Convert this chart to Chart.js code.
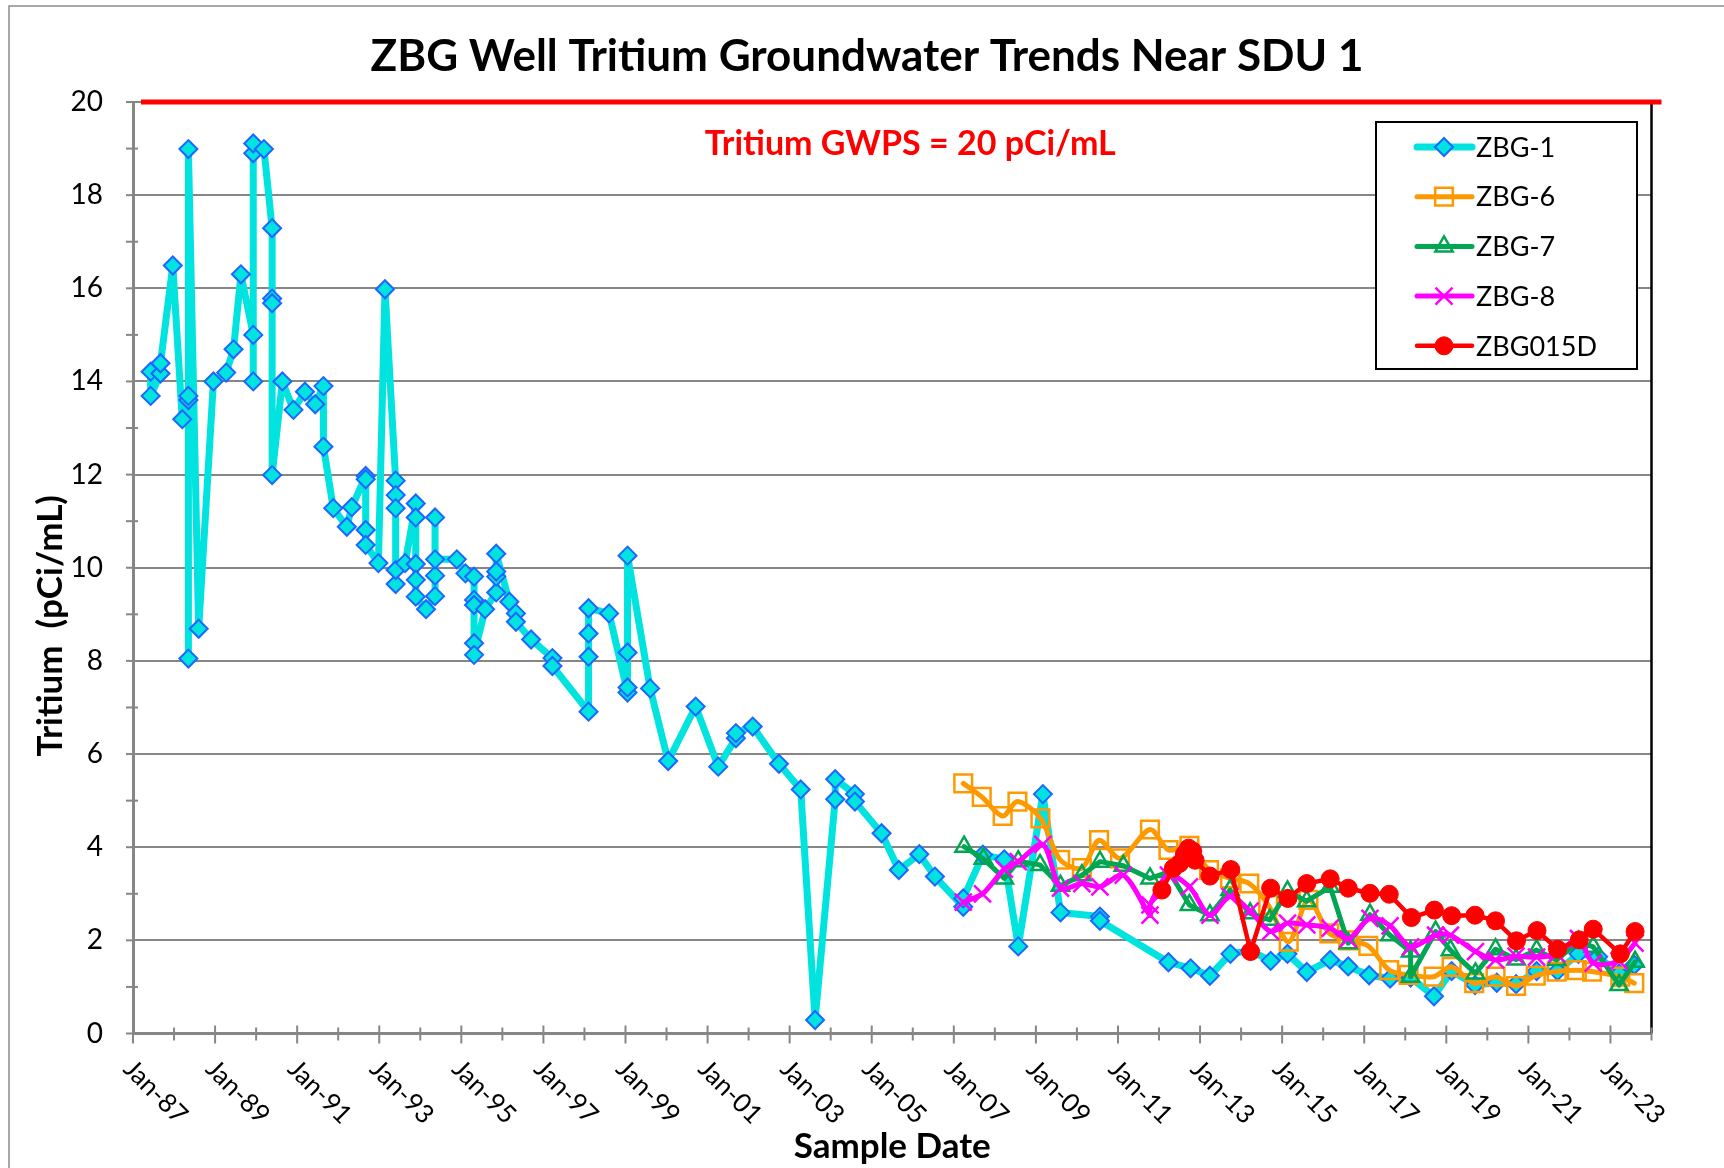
<!DOCTYPE html>
<html>
<head>
<meta charset="utf-8">
<title>ZBG Well Tritium Groundwater Trends Near SDU 1</title>
<script src="https://cdn.jsdelivr.net/npm/chart.js@4.4.0/dist/chart.umd.min.js"></script>
<style>
    html, body { margin: 0; padding: 0; background: #ffffff; }
    #wrap { width: 1724px; height: 1168px; }
</style>
</head>
<body>
<div id="wrap"><canvas id="trendChart" width="1724" height="1168"></canvas></div>
<script>
// Sample dates are decimal years, values in pCi/mL
const zbg1Dates = [
    1987.43, 1987.43, 1987.67, 1987.67, 1987.97, 1988.20, 1988.35, 1988.35, 1988.35, 1988.35,
    1988.60, 1988.96, 1989.27, 1989.45, 1989.63, 1989.93, 1989.93, 1989.93, 1989.93, 1990.19,
    1990.39, 1990.39, 1990.39, 1990.39, 1990.64, 1990.91, 1991.19, 1991.44, 1991.64, 1991.64,
    1991.88, 1992.21, 1992.33, 1992.67, 1992.67, 1992.67, 1992.67, 1992.98, 1993.14, 1993.40,
    1993.40, 1993.40, 1993.40, 1993.40, 1993.63, 1993.89, 1993.89, 1993.89, 1993.89, 1993.89,
    1994.14, 1994.36, 1994.36, 1994.36, 1994.36, 1994.89, 1995.10, 1995.31, 1995.31, 1995.31,
    1995.31, 1995.31, 1995.58, 1995.85, 1995.85, 1995.85, 1995.85, 1996.17, 1996.33, 1996.33,
    1996.70, 1997.22, 1997.22, 1998.10, 1998.10, 1998.10, 1998.10, 1998.60, 1999.05, 1999.05,
    1999.05, 1999.05, 1999.60, 2000.04, 2000.71, 2001.26, 2001.69, 2001.69, 2002.10, 2002.74,
    2003.27, 2003.62, 2004.11, 2004.11, 2004.59, 2004.59, 2005.24, 2005.66, 2006.16, 2006.54,
    2007.23, 2007.23, 2007.71, 2008.23, 2008.57, 2009.17, 2009.60, 2010.56, 2010.56, 2012.23,
    2012.77, 2013.24, 2013.74, 2014.22, 2014.72, 2015.13, 2015.60, 2016.17, 2016.61, 2017.12,
    2017.63, 2018.13, 2018.70, 2019.13, 2019.70, 2020.23, 2020.70, 2021.20, 2021.71, 2022.22,
    2022.70, 2023.21, 2023.58
];
const zbg1Values = [
    14.21, 13.69, 14.17, 14.39, 16.49, 13.19, 13.60, 13.69, 8.05, 18.99,
    8.69, 14.00, 14.19, 14.69, 16.30, 15.00, 14.00, 18.90, 19.11, 18.99,
    17.29, 15.78, 15.68, 11.99, 14.00, 13.39, 13.78, 13.51, 13.90, 12.60,
    11.28, 10.88, 11.30, 11.97, 11.90, 10.81, 10.49, 10.10, 15.98, 11.87,
    11.56, 11.28, 9.65, 9.95, 10.10, 11.38, 11.08, 10.08, 9.74, 9.38,
    9.11, 9.39, 9.83, 11.08, 10.18, 10.18, 9.88, 9.81, 9.31, 9.20,
    8.38, 8.13, 9.11, 9.47, 9.81, 9.92, 10.30, 9.27, 9.02, 8.84,
    8.46, 8.06, 7.89, 6.91, 8.09, 8.59, 9.13, 9.02, 7.32, 7.43,
    8.18, 10.26, 7.41, 5.85, 7.02, 5.73, 6.34, 6.45, 6.59, 5.79,
    5.24, 0.29, 5.03, 5.46, 5.14, 4.98, 4.30, 3.51, 3.85, 3.37,
    2.72, 2.90, 3.84, 3.74, 1.87, 5.14, 2.60, 2.51, 2.42, 1.53,
    1.40, 1.24, 1.71, 1.78, 1.56, 1.71, 1.32, 1.58, 1.44, 1.25,
    1.18, 1.20, 0.80, 1.34, 1.04, 1.09, 1.06, 1.34, 1.34, 1.71,
    1.65, 1.29, 1.47
];

const zbg6Dates = [
    2007.23, 2007.68, 2008.19, 2008.55, 2009.11, 2009.59, 2010.12, 2010.54, 2011.05, 2011.78,
    2012.23, 2012.74, 2013.22, 2013.73, 2014.20, 2014.66, 2015.16, 2015.64, 2016.15, 2016.61,
    2017.10, 2017.61, 2018.08, 2018.69, 2019.13, 2019.68, 2020.20, 2020.70, 2021.18, 2021.69,
    2022.18, 2022.55, 2023.24, 2023.58
];
const zbg6Values = [
    5.37, 5.08, 4.67, 4.98, 4.62, 3.73, 3.55, 4.15, 3.76, 4.38,
    3.94, 4.03, 3.51, 3.33, 3.22, 2.76, 1.97, 2.87, 2.15, 2.00,
    1.88, 1.36, 1.26, 1.22, 1.43, 1.08, 1.22, 1.02, 1.24, 1.33,
    1.36, 1.33, 1.22, 1.08
];

const zbg7Dates = [
    2007.25, 2007.72, 2008.23, 2008.57, 2009.10, 2009.60, 2010.12, 2010.56, 2011.13, 2011.78,
    2012.25, 2012.74, 2013.24, 2013.73, 2014.22, 2014.70, 2015.13, 2015.60, 2016.17, 2016.61,
    2017.14, 2017.63, 2018.13, 2018.13, 2018.74, 2019.10, 2019.71, 2020.20, 2020.70, 2021.20,
    2021.69, 2022.22, 2022.58, 2023.21, 2023.60
];
const zbg7Values = [
    4.01, 3.75, 3.33, 3.70, 3.62, 3.17, 3.40, 3.69, 3.60, 3.33,
    3.47, 2.76, 2.54, 3.08, 2.58, 2.44, 3.05, 2.84, 3.15, 1.94,
    2.55, 2.11, 1.76, 1.22, 2.19, 1.79, 1.29, 1.81, 1.59, 1.79,
    1.58, 1.97, 1.86, 1.04, 1.54
];

const zbg8Dates = [
    2007.23, 2007.70, 2008.23, 2008.57, 2009.17, 2009.60, 2010.12, 2010.56, 2011.13, 2011.78,
    2011.78, 2012.23, 2012.74, 2013.24, 2013.73, 2014.22, 2014.72, 2015.13, 2015.60, 2016.17,
    2016.61, 2017.14, 2017.63, 2018.13, 2018.74, 2019.10, 2019.71, 2020.20, 2020.70, 2021.20,
    2021.69, 2022.22, 2022.58, 2023.21, 2023.60
];
const zbg8Values = [
    2.82, 3.00, 3.53, 3.69, 4.06, 3.12, 3.22, 3.15, 3.40, 2.54,
    2.76, 3.40, 3.15, 2.54, 2.94, 2.63, 2.19, 2.37, 2.33, 2.26,
    2.03, 2.47, 2.31, 1.86, 2.11, 2.11, 1.76, 1.58, 1.66, 1.64,
    1.71, 2.04, 1.51, 1.56, 1.94
];

const zbg015dDates = [
    2012.07, 2012.35, 2012.50, 2012.62, 2012.72, 2012.82, 2012.88, 2013.24, 2013.75, 2014.23,
    2014.72, 2015.14, 2015.60, 2016.17, 2016.61, 2017.14, 2017.61, 2018.15, 2018.71, 2019.13,
    2019.70, 2020.20, 2020.71, 2021.21, 2021.71, 2022.24, 2022.58, 2023.24, 2023.60
];
const zbg015dValues = [
    3.08, 3.55, 3.65, 3.85, 3.98, 3.92, 3.72, 3.38, 3.52, 1.76,
    3.12, 2.90, 3.22, 3.32, 3.12, 3.01, 2.99, 2.49, 2.65, 2.53,
    2.54, 2.42, 1.99, 2.21, 1.81, 2.01, 2.24, 1.71, 2.19
];

const seriesNames = ['ZBG-1', 'ZBG-6', 'ZBG-7', 'ZBG-8', 'ZBG015D'];
const xMin = 1987, xMax = 2024;     // Jan-87 .. Jan-24
const yMin = 0, yMax = 20, yStep = 2;
const gwpsLimit = 20;
const gwpsLabel = 'Tritium GWPS = 20 pCi/mL';
const chartTitle = 'ZBG Well Tritium Groundwater Trends Near SDU 1';

const FONT = 'Lato, "Open Sans", sans-serif';
const axisGray = '#868686';

function pairs(dates, values) {
    return dates.map((d, i) => ({ x: d, y: values[i] }));
}

function twoDigit(yr) {
    return String(yr % 100).padStart(2, '0');
}

// extra drawing: frame, title, ticks, rotated date labels, GWPS line, legend box
const decorPlugin = {
    id: 'decor',
    beforeDraw(chart) {
        const ctx = chart.ctx;
        ctx.save();
        ctx.fillStyle = '#ffffff';
        ctx.fillRect(0, 0, chart.width, chart.height);
        ctx.strokeStyle = '#8c8c8c';
        ctx.lineWidth = 1.5;
        ctx.strokeRect(9, 6, chart.width + 40, chart.height + 40);
        // title is centred on the whole frame, not on the plot
        ctx.fillStyle = '#000000';
        ctx.font = 'bold 44px ' + FONT;
        ctx.textAlign = 'center';
        ctx.textBaseline = 'middle';
        ctx.fillText(chartTitle, chart.width / 2 + 5, 57);
        ctx.restore();
    },
    afterDatasetsDraw(chart) {
        const ctx = chart.ctx;
        const area = chart.chartArea;
        const xs = chart.scales.x;
        const ys = chart.scales.y;
        ctx.save();

        // right border of plot area
        ctx.strokeStyle = '#000000';
        ctx.lineWidth = 2.5;
        ctx.beginPath();
        ctx.moveTo(area.right, area.top);
        ctx.lineTo(area.right, area.bottom);
        ctx.stroke();

        // x tick marks (every year, longer on labelled years)
        ctx.strokeStyle = axisGray;
        ctx.lineWidth = 2;
        for (let yr = xMin; yr <= xMax; yr++) {
            const px = xs.getPixelForValue(yr);
            const major = (yr - xMin) % 2 === 0;
            ctx.beginPath();
            ctx.moveTo(px, area.bottom - (major ? 8 : 6));
            ctx.lineTo(px, area.bottom + (major ? 10 : 7));
            ctx.stroke();
        }
        // y tick marks
        for (let v = yMin; v <= yMax; v++) {
            const py = ys.getPixelForValue(v);
            const major = v % yStep === 0;
            ctx.beginPath();
            ctx.moveTo(area.left - 7, py);
            ctx.lineTo(area.left + (major ? 0 : 5), py);
            ctx.stroke();
        }

        // rotated date labels
        ctx.fillStyle = '#000000';
        ctx.font = '26px ' + FONT;
        ctx.textAlign = 'left';
        ctx.textBaseline = 'middle';
        for (let yr = xMin; yr < xMax; yr += 2) {
            const px = xs.getPixelForValue(yr);
            ctx.save();
            ctx.translate(px - 5, area.bottom + 31);
            ctx.rotate(Math.PI / 4);
            ctx.fillText('Jan-' + twoDigit(yr), 0, 0);
            ctx.restore();
        }

        // y axis title, sits a bit below the middle like the original
        ctx.save();
        ctx.font = 'bold 35px ' + FONT;
        ctx.textAlign = 'center';
        ctx.textBaseline = 'middle';
        ctx.translate(51, (area.top + area.bottom) / 2 + 58);
        ctx.rotate(-Math.PI / 2);
        ctx.fillText('Tritium  (pCi/mL)', 0, 0);
        ctx.restore();

        // GWPS limit line and label
        const limitY = ys.getPixelForValue(gwpsLimit);
        ctx.strokeStyle = '#ff0000';
        ctx.lineWidth = 5;
        ctx.beginPath();
        ctx.moveTo(area.left + 8, limitY);
        ctx.lineTo(area.right + 10, limitY);
        ctx.stroke();
        ctx.fillStyle = '#ff0000';
        ctx.font = 'bold 34px ' + FONT;
        ctx.textAlign = 'center';
        ctx.fillText(gwpsLabel, (area.left + area.right) / 2 + 18, limitY + 42);

        // legend
        const boxW = 261, boxH = 247;
        const boxX = area.right - 14.5 - boxW;
        const boxY = area.top + 20;
        ctx.fillStyle = '#ffffff';
        ctx.fillRect(boxX, boxY, boxW, boxH);
        ctx.strokeStyle = '#000000';
        ctx.lineWidth = 2;
        ctx.strokeRect(boxX, boxY, boxW, boxH);
        chart.data.datasets.forEach((ds, i) => {
            const cy = boxY + 25 + i * 49.7;
            ctx.strokeStyle = ds.borderColor;
            ctx.lineWidth = ds.borderWidth;
            ctx.lineCap = 'round';
            ctx.beginPath();
            ctx.moveTo(boxX + 41, cy);
            ctx.lineTo(boxX + 96, cy);
            ctx.stroke();
            ctx.lineCap = 'butt';
            ctx.fillStyle = ds.pointBackgroundColor;
            ctx.strokeStyle = ds.pointBorderColor;
            ctx.lineWidth = ds.pointBorderWidth;
            Chart.helpers.drawPoint(ctx, {
                pointStyle: ds.pointStyle,
                radius: ds.pointRadius,
                rotation: 0,
                borderWidth: ds.pointBorderWidth
            }, boxX + 68, cy);
            ctx.fillStyle = '#000000';
            ctx.font = '27px ' + FONT;
            ctx.textAlign = 'left';
            ctx.textBaseline = 'middle';
            ctx.fillText(ds.label, boxX + 100, cy + 1);
        });

        ctx.restore();
    }
};

const lineLook = { borderJoinStyle: 'round', borderCapStyle: 'round' };

const datasets = [
    Object.assign({
        label: seriesNames[0],
        data: pairs(zbg1Dates, zbg1Values),
        borderColor: '#00E3DF',
        borderWidth: 7,
        pointStyle: 'rectRot',
        pointRadius: 9,
        pointBackgroundColor: '#00E3DF',
        pointBorderColor: '#1F66FF',
        pointBorderWidth: 2,
        tension: 0,
        order: 5
    }, lineLook),
    Object.assign({
        label: seriesNames[1],
        data: pairs(zbg6Dates, zbg6Values),
        borderColor: '#FF9900',
        borderWidth: 5,
        pointStyle: 'rect',
        pointRadius: 12.5,
        pointBackgroundColor: 'rgba(0,0,0,0)',
        pointBorderColor: '#FF9900',
        pointBorderWidth: 2.5,
        tension: 0.3,
        order: 4
    }, lineLook),
    Object.assign({
        label: seriesNames[2],
        data: pairs(zbg7Dates, zbg7Values),
        borderColor: '#00A651',
        borderWidth: 5,
        pointStyle: 'triangle',
        pointRadius: 10,
        pointBackgroundColor: 'rgba(0,0,0,0)',
        pointBorderColor: '#00A651',
        pointBorderWidth: 2.5,
        tension: 0,
        order: 3
    }, lineLook),
    Object.assign({
        label: seriesNames[3],
        data: pairs(zbg8Dates, zbg8Values),
        borderColor: '#FF00FF',
        borderWidth: 5,
        pointStyle: 'crossRot',
        pointRadius: 12,
        pointBackgroundColor: 'rgba(0,0,0,0)',
        pointBorderColor: '#FF00FF',
        pointBorderWidth: 2.5,
        tension: 0.3,
        order: 2
    }, lineLook),
    Object.assign({
        label: seriesNames[4],
        data: pairs(zbg015dDates, zbg015dValues),
        borderColor: '#FF0000',
        borderWidth: 4.5,
        pointStyle: 'circle',
        pointRadius: 9,
        pointBackgroundColor: '#FF0000',
        pointBorderColor: '#FF0000',
        pointBorderWidth: 1,
        tension: 0,
        order: 1
    }, lineLook)
];

const chart = new Chart(document.getElementById('trendChart'), {
    type: 'line',
    data: { datasets: datasets },
    options: {
        responsive: false,
        devicePixelRatio: 1,
        animation: false,
        layout: { padding: { left: 0, right: 72.5, top: 102, bottom: 0 } },
        plugins: {
            legend: { display: false },
            tooltip: { enabled: false },
            title: { display: false }
        },
        scales: {
            x: {
                type: 'linear',
                min: xMin,
                max: xMax,
                ticks: { display: false, stepSize: 1 },
                grid: { display: false },
                border: { display: true, color: axisGray, width: 3 },
                title: {
                    display: true,
                    text: 'Sample Date',
                    color: '#000000',
                    font: { family: FONT, size: 35, weight: 'bold', lineHeight: 1.2 },
                    padding: { top: 0, bottom: 0 }
                },
                afterFit(scale) { scale.height = 134.5; }
            },
            y: {
                min: yMin,
                max: yMax,
                ticks: {
                    stepSize: yStep,
                    color: '#000000',
                    padding: 30,
                    font: { family: FONT, size: 28 }
                },
                grid: { color: axisGray, lineWidth: 2, drawTicks: false },
                border: { display: true, color: axisGray, width: 3 },
                afterFit(scale) { scale.width = 133; }
            }
        }
    },
    plugins: [decorPlugin]
});
</script>
</body>
</html>
